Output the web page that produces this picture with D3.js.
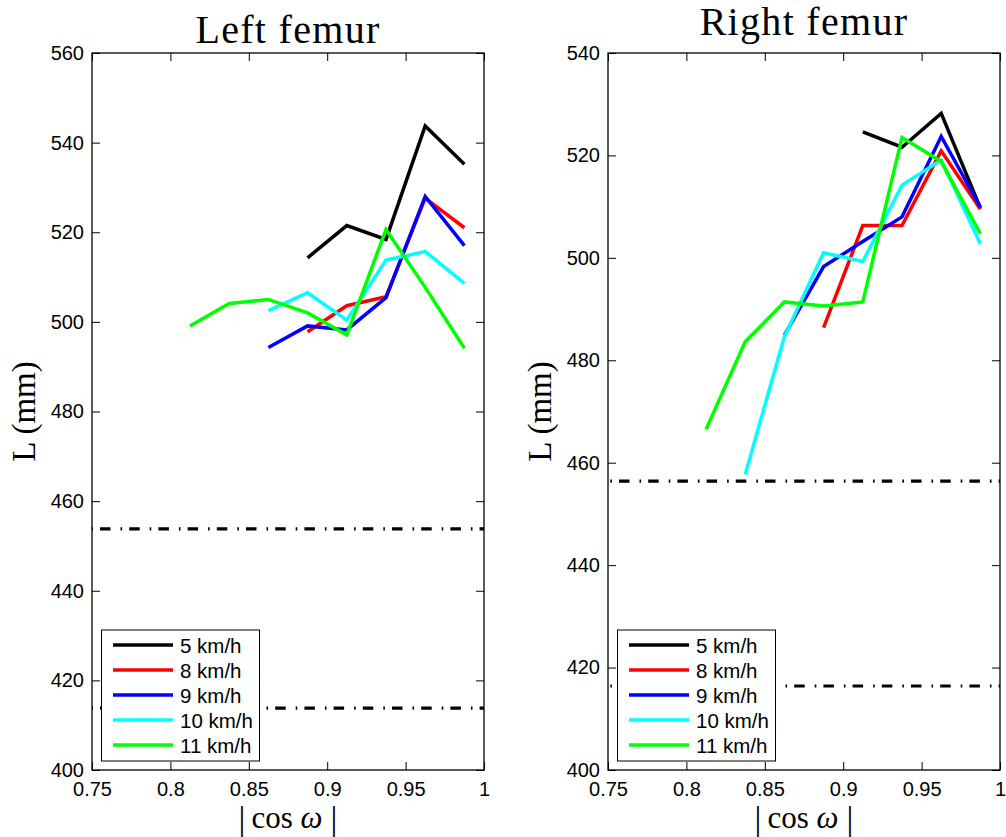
<!DOCTYPE html>
<html>
<head>
<meta charset="utf-8">
<script src="https://cdn.jsdelivr.net/npm/d3@7/dist/d3.min.js"></script>
<style>
  html, body { margin: 0; padding: 0; background: #fff; }
  svg { display: block; }
</style>
</head>
<body>
<svg id="chart" width="1006" height="837"></svg>
<script>
// ---------------- DATA ----------------
const cosOmega = [0.8125, 0.8375, 0.8625, 0.8875, 0.9125, 0.9375, 0.9625, 0.9875];
const speeds = ["5 km/h", "8 km/h", "9 km/h", "10 km/h", "11 km/h"];
const xTicks = [0.75, 0.8, 0.85, 0.9, 0.95, 1];
const leftYTicks = [400, 420, 440, 460, 480, 500, 520, 540, 560];
const rightYTicks = [400, 420, 440, 460, 480, 500, 520, 540];

// Left femur
const left5  = [null, null, null, 514.3, 521.5, 518.4, 543.7, 535.2];
const left8  = [null, null, null, 497.8, 503.6, 505.6, 527.6, 521.0];
const left9  = [null, null, 494.3, 499.1, 498.2, 505.4, 528.0, 517.0];
const left10 = [null, null, 502.5, 506.5, 500.4, 513.8, 515.7, 508.6];
const left11 = [499.1, 504.1, 505.0, 502.0, 497.1, 520.6, 507.7, 494.1];
const leftLimits = [453.8, 413.8];

// Right femur
const right5  = [null, null, null, null, 524.6, 521.6, 528.2, 509.7];
const right8  = [null, null, null, 486.4, 506.3, 506.3, 520.9, 509.5];
const right9  = [null, null, 484.9, 498.3, 503.2, 508.0, 523.7, 509.9];
const right10 = [null, 457.7, 484.6, 501.0, 499.3, 514.2, 519.1, 502.7];
const right11 = [466.5, 483.6, 491.4, 490.6, 491.4, 523.5, 518.8, 504.7];
const rightLimits = [456.4, 416.4];

// ---------------- STYLE ----------------
const colors = ["#000000", "#ff0000", "#0000ff", "#00ffff", "#00ff00"];
const tickFont = "'Liberation Sans', Arial, Helvetica, sans-serif";
const serifFont = "'Liberation Serif', 'Times New Roman', serif";

const svg = d3.select("#chart");

const panels = [
  { title: "Left femur", series: [left5, left8, left9, left10, left11], limits: leftLimits,
    yTicks: leftYTicks, yMax: 560, x0: 92, x1: 484, titleY: 43, dashOffset: 21.2 },
  { title: "Right femur", series: [right5, right8, right9, right10, right11], limits: rightLimits,
    yTicks: rightYTicks, yMax: 540, x0: 608, x1: 1000, titleY: 35, dashOffset: 18.2 }
];

const yTop = 53, yBot = 770;

panels.forEach(p => {
  const x = d3.scaleLinear().domain([0.75, 1]).range([p.x0, p.x1]);
  const y = d3.scaleLinear().domain([400, p.yMax]).range([yBot, yTop]);
  const g = svg.append("g");

  // reference dash-dot lines
  p.limits.forEach(v => {
    g.append("line")
      .attr("x1", x(0.75)).attr("x2", x(1))
      .attr("y1", y(v)).attr("y2", y(v))
      .attr("stroke", "#000").attr("stroke-width", 3.2)
      .attr("stroke-dasharray", "10.5,10,1.6,7.1")
      .attr("stroke-dashoffset", p.dashOffset);
  });

  // data lines
  const line = d3.line()
    .defined(d => d[1] != null)
    .x(d => x(d[0]))
    .y(d => y(d[1]));
  p.series.forEach((s, i) => {
    g.append("path")
      .datum(cosOmega.map((c, j) => [c, s[j]]))
      .attr("d", line)
      .attr("fill", "none")
      .attr("stroke", colors[i])
      .attr("stroke-width", 3.5)
      .attr("stroke-linejoin", "miter");
  });

  // axes with inner ticks
  const fmt = d => String(d);
  const axL = d3.axisLeft(y).tickValues(p.yTicks).tickFormat(fmt).tickSizeInner(-8).tickSizeOuter(0).tickPadding(8);
  const axR = d3.axisRight(y).tickValues(p.yTicks).tickFormat("").tickSizeInner(-8).tickSizeOuter(0);
  const axB = d3.axisBottom(x).tickValues(xTicks).tickFormat(fmt).tickSizeInner(-8).tickSizeOuter(0).tickPadding(12);
  const axT = d3.axisTop(x).tickValues(xTicks).tickFormat("").tickSizeInner(-8).tickSizeOuter(0);

  const styleAxis = sel => {
    sel.selectAll("path.domain").remove();
    sel.selectAll("line").attr("stroke", "#000").attr("stroke-width", 1);
    sel.selectAll("text").attr("font-family", tickFont).attr("font-size", 20).attr("fill", "#000");
  };
  g.append("g").attr("transform", `translate(${p.x0},0)`).call(axL).call(styleAxis);
  g.append("g").attr("transform", `translate(${p.x1},0)`).call(axR).call(styleAxis);
  g.append("g").attr("transform", `translate(0,${yBot})`).call(axB).call(styleAxis);
  g.append("g").attr("transform", `translate(0,${yTop})`).call(axT).call(styleAxis);

  // frame
  g.append("rect")
    .attr("x", p.x0).attr("y", yTop)
    .attr("width", p.x1 - p.x0).attr("height", yBot - yTop)
    .attr("fill", "none").attr("stroke", "#000").attr("stroke-width", 1.3);

  // legend
  const bx = p.x0 + 9.5, by = 630, bw = 158, bh = 131;
  const lg = g.append("g");
  lg.append("rect").attr("x", bx).attr("y", by).attr("width", bw).attr("height", bh)
    .attr("fill", "#fff").attr("stroke", "#000").attr("stroke-width", 1);
  speeds.forEach((s, i) => {
    const ry = 645 + 25 * i;
    lg.append("line").attr("x1", bx + 11.5).attr("x2", bx + 71.5)
      .attr("y1", ry).attr("y2", ry)
      .attr("stroke", colors[i]).attr("stroke-width", 3.5);
    lg.append("text").attr("x", bx + 78.5).attr("y", ry)
      .attr("dominant-baseline", "central")
      .attr("font-family", tickFont).attr("font-size", 20.5)
      .text(s);
  });

  // title
  const cx = (p.x0 + p.x1) / 2;
  g.append("text").attr("x", cx).attr("y", p.titleY)
    .attr("text-anchor", "middle")
    .attr("font-family", serifFont).attr("font-size", 40)
    .attr("letter-spacing", 1.3)
    .text(p.title);

  // y label
  const ly = (yTop + yBot) / 2;
  g.append("text")
    .attr("transform", `translate(${p.x0 - 57},${ly}) rotate(-90)`)
    .attr("text-anchor", "middle")
    .attr("font-family", serifFont).attr("font-size", 33)
    .text("L (mm)");

  // x label | cos ω |
  const xl = g.append("g").attr("font-family", serifFont);
  xl.append("text").attr("x", cx - 46).attr("y", 830).attr("text-anchor", "middle")
    .attr("font-size", 34).attr("font-weight", 300).text("|");
  xl.append("text").attr("x", cx + 46).attr("y", 830).attr("text-anchor", "middle")
    .attr("font-size", 34).attr("font-weight", 300).text("|");
  const t = xl.append("text").attr("x", cx - 1).attr("y", 828).attr("text-anchor", "middle")
    .attr("font-size", 31);
  t.append("tspan").text("cos ");
  t.append("tspan").attr("font-style", "italic").text("ω");
});
</script>
</body>
</html>
